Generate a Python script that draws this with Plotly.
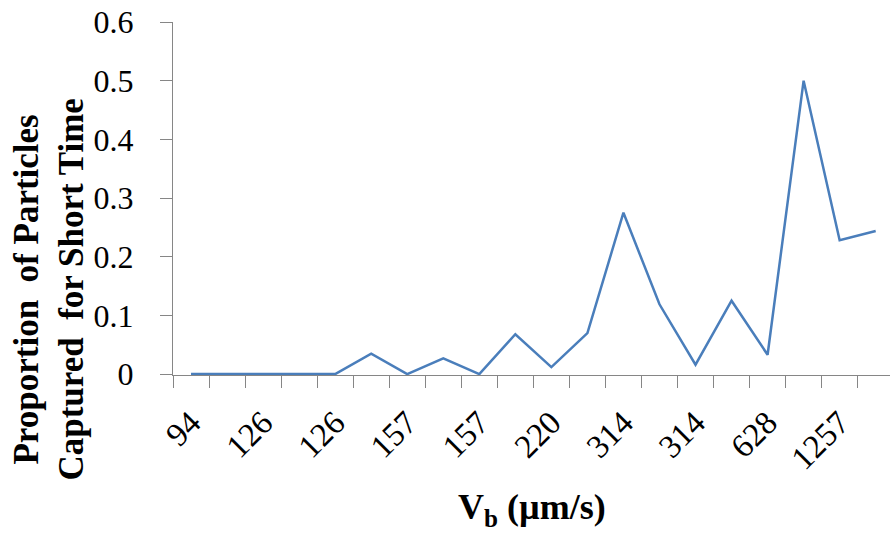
import plotly.graph_objects as go

# Bead velocity categories (every other one is labelled on the axis)
tick_labels = ["94", "126", "126", "157", "157", "220", "314", "314", "628", "1257"]
# Proportion of particles captured for a short time, one value per run
proportion = [0, 0, 0, 0, 0, 0.035, 0, 0.027, 0, 0.068,
              0.012, 0.070, 0.275, 0.119, 0.016, 0.125, 0.033, 0.500, 0.228, 0.244]

positions = list(range(1, len(proportion) + 1))
label_positions = positions[0::2]

serif = "Liberation Serif, Times New Roman, serif"
axis_gray = "#868686"

fig = go.Figure()
fig.add_trace(go.Scatter(
    x=positions, y=proportion, mode="lines",
    line=dict(color="#4A7EBB", width=2.5),
    showlegend=False,
))

fig.update_layout(
    width=890, height=533,
    margin=dict(l=173, r=0, t=22, b=158, autoexpand=False),
    paper_bgcolor="white", plot_bgcolor="white",
    font=dict(family=serif, color="black"),
)

fig.update_xaxes(
    range=[0.5, 20.397],
    showgrid=False, zeroline=False,
    showline=True, linecolor=axis_gray, linewidth=1,
    tickmode="array", tickvals=label_positions, ticktext=tick_labels,
    ticks="", tickangle=-45, ticklabelstandoff=14,
    tickfont=dict(family=serif, size=33, color="black"),
    minor=dict(tickmode="linear", tick0=0.5, dtick=1, ticks="outside",
               ticklen=12, tickcolor=axis_gray, tickwidth=1, showgrid=False),
)

fig.update_yaxes(
    range=[-0.0015, 0.6], tickmode="array",
    tickvals=[0, 0.1, 0.2, 0.3, 0.4, 0.5, 0.6],
    ticktext=["0", "0.1", "0.2", "0.3", "0.4", "0.5", "0.6"],
    showgrid=False, zeroline=False,
    showline=True, linecolor=axis_gray, linewidth=1,
    ticks="outside", ticklen=12, tickcolor=axis_gray, tickwidth=1,
    ticklabelstandoff=20,
    tickfont=dict(family=serif, size=32, color="black"),
)

fig.add_annotation(
    text="<b>Proportion  of Particles<br>Captured  for Short Time</b>",
    textangle=-90, showarrow=False,
    xref="paper", yref="paper", x=-0.172, y=0.241,
    xanchor="center", yanchor="middle",
    font=dict(family=serif, size=35, color="black"),
)

fig.add_annotation(
    text="<b>V<sub>b</sub> (µm/s)</b>",
    showarrow=False,
    xref="paper", yref="paper", x=0.5, y=-0.38,
    xanchor="center", yanchor="middle",
    font=dict(family=serif, size=36, color="black"),
)

fig.write_html("out.html")
